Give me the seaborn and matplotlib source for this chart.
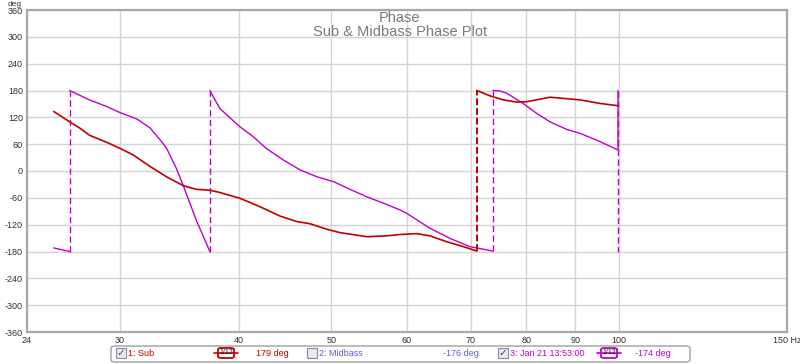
import numpy as np
import pandas as pd
import matplotlib
matplotlib.use('Agg')
import matplotlib.pyplot as plt
import seaborn as sns
from matplotlib.patches import FancyBboxPatch, Rectangle
from matplotlib.lines import Line2D

# ==========================================
# data
# ==========================================
sub_freq = [25.6, 26.6, 27.3, 27.9, 29.1, 30.0, 31.0, 32.3, 33.6, 35.0, 36.1, 37.3,
            38.2, 40.1, 42.1, 44.2, 46.0, 47.5, 49.4, 51.1, 54.5, 57.1, 59.0,
            61.4, 63.4, 66.0, 68.7, 71.0, 71.0, 73.3, 75.7, 78.2, 80.1, 84.7,
            91.1, 95.6, 99.8]
sub_phase = [133, 110, 95, 80, 64, 51, 36, 10, -13, -33, -41, -43,
             -48, -61, -80, -101, -113, -118, -130, -138, -147, -145, -142,
             -140, -145, -158, -169, -179, 180, 168, 159, 154, 155, 165,
             159, 151, 146]

mid_freq = [25.6, 26.6, 26.6, 27.9, 29.1, 30.0, 31.3, 32.3, 33.1, 33.6, 34.4, 35.0,
            36.1, 37.3, 37.3, 38.2, 39.2, 40.1, 41.4, 42.7, 44.5, 46.4, 48.3,
            50.3, 52.3, 54.5, 56.7, 59.0, 60.0, 63.4, 66.6, 69.8, 73.8, 73.8,
            75.1, 76.3, 79.4, 82.0, 84.7, 88.2, 91.1, 94.8, 99.8, 99.8, 99.8]
mid_phase = [-172, -180, 180, 159, 144, 131, 116, 96, 69, 51, 6, -34,
             -110, -180, 180, 140, 118, 99, 77, 51, 25, 2, -13,
             -24, -41, -58, -72, -87, -95, -128, -151, -169, -179, 180,
             179, 174, 151, 129, 110, 93, 84, 69, 47, 180, -180]

x_ticks = [24, 30, 40, 50, 60, 70, 80, 90, 100, 150]
x_labels = ['24', '30', '40', '50', '60', '70', '80', '90', '100', '150 Hz']
y_ticks = list(range(-360, 361, 60))

sub_color = '#c00000'
mid_color = '#c000c8'
blue_color = '#5a5ad8'

sns.set_theme(style="whitegrid")
plt.rcParams['font.family'] = ['Liberation Sans', 'DejaVu Sans']

fig = plt.figure(figsize=(8, 3.64), dpi=100, facecolor='white')
ax = fig.add_axes([27 / 800, 1 - 332 / 364, 760 / 800, 322 / 364])
ax.set_facecolor('white')


def draw_trace(freq, phase, color, lw, dash_lw, dashes):
    # split at phase wraps: solid segments, dashed vertical wrap lines
    df = pd.DataFrame({'f': freq, 'p': phase})
    jumps = np.where(np.abs(np.diff(df['p'].values)) > 300)[0]
    starts = [0] + list(jumps + 1)
    ends = list(jumps + 1) + [len(df)]
    for s, e in zip(starts, ends):
        seg = df.iloc[s:e]
        if len(seg) > 1:
            sns.lineplot(data=seg, x='f', y='p', ax=ax, color=color, lw=lw,
                         sort=False, estimator=None)
    for j in jumps:
        wrap = df.iloc[j:j + 2]
        ax.plot(wrap['f'], wrap['p'], color=color, lw=dash_lw,
                dashes=dashes)


draw_trace(mid_freq, mid_phase, mid_color, 1.0, 1.0, (4.5, 2.5))
draw_trace(sub_freq, sub_phase, sub_color, 1.2, 1.4, (3.5, 1.5))

ax.set_xscale('log')
ax.set_xlim(24, 150)
ax.set_ylim(-360, 360)
ax.set_xticks(x_ticks)
ax.set_xticklabels(x_labels)
ax.xaxis.set_minor_locator(matplotlib.ticker.NullLocator())
ax.set_yticks(y_ticks)
ax.set_yticklabels([str(v) for v in y_ticks])
ax.tick_params(axis='both', labelsize=6.5, colors='#303030', length=0, pad=3)
ax.grid(True, color='#d4d4d4', lw=1.0)
ax.set_xlabel('')
ax.set_ylabel('')
for sp in ax.spines.values():
    sp.set_color('#a8a8a8')
    sp.set_linewidth(1.6)

fig.text(15 / 800, 1 - 1 / 364, 'deg', fontsize=6, color='#303030',
         ha='center', va='top')

# title
fig.text(400 / 800, 1 - 18 / 364, 'Phase', fontsize=10.5, color='#7a7a7a',
         ha='center', va='center')
fig.text(400 / 800, 1 - 32 / 364, 'Sub & Midbass Phase Plot', fontsize=10.5,
         color='#7a7a7a', ha='center', va='center')


# ==========================================
# legend bar at the bottom
# ==========================================
def fx(x):
    return x / 800


def fy(y):
    return 1 - y / 364


fig.add_artist(FancyBboxPatch((fx(111), fy(362)), fx(690) - fx(111), fy(346) - fy(362),
                              boxstyle='round,pad=0,rounding_size=0.006',
                              transform=fig.transFigure, fc='white', ec='#a0a0a0', lw=1.0))

ly = 353


def checkbox(x, checked):
    fig.add_artist(Rectangle((fx(x), fy(ly + 5)), fx(10), 10 / 364,
                             transform=fig.transFigure, fc='#e8e8f0', ec='#8a8a9a', lw=0.8))
    if checked:
        fig.text(fx(x + 5), fy(ly), '\u2713', fontsize=7.5, color='#3040a0',
                 ha='center', va='center', family=['DejaVu Sans'])


def smooth_icon(x, color):
    fig.add_artist(Line2D([fx(x), fx(x + 24)], [fy(ly), fy(ly)],
                          transform=fig.transFigure, color=color, lw=1.2))
    fig.add_artist(FancyBboxPatch((fx(x + 4), fy(ly + 5)), fx(16), 10 / 364,
                                  boxstyle='round,pad=0,rounding_size=0.004',
                                  transform=fig.transFigure, fc='white', ec=color, lw=1.3))
    fig.text(fx(x + 12), fy(ly), '1/12', fontsize=5, color='#202020',
             ha='center', va='center')


checkbox(116, True)
fig.text(fx(128), fy(ly), '1: Sub', fontsize=6.5, color=sub_color, va='center')
smooth_icon(214, sub_color)
fig.text(fx(256), fy(ly), '179 deg', fontsize=6.5, color=sub_color, va='center')
checkbox(307, False)
fig.text(fx(319), fy(ly), '2: Midbass', fontsize=6.5, color=blue_color, va='center')
fig.text(fx(443), fy(ly), '-176 deg', fontsize=6.5, color=blue_color, va='center')
checkbox(498, True)
fig.text(fx(510), fy(ly), '3: Jan 21 13:53:00', fontsize=6.5, color=mid_color, va='center')
smooth_icon(597, mid_color)
fig.text(fx(635), fy(ly), '-174 deg', fontsize=6.5, color=mid_color, va='center')

fig.savefig('out.png', dpi=100, facecolor='white')
